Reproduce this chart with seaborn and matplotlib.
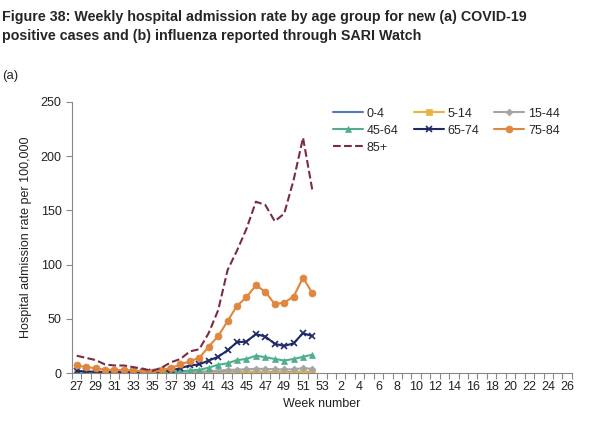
import numpy as np
import pandas as pd
import seaborn as sns
import matplotlib.pyplot as plt
from matplotlib.ticker import FixedLocator, NullFormatter

# week axis runs 27..53 then 1..26
weeks = list(range(27, 54)) + list(range(1, 27))

# data available for weeks 27-52
rate_0_4 = [0.8, 0.6, 0.5, 0.4, 0.4, 0.3, 0.3, 0.3, 0.3, 0.3, 0.4, 0.5, 0.6, 0.7, 0.8, 0.9,
            1.0, 1.0, 1.1, 1.2, 1.1, 1.0, 1.0, 1.0, 1.2, 1.1]
rate_5_14 = [0.2, 0.2, 0.1, 0.1, 0.1, 0.1, 0.1, 0.1, 0.1, 0.1, 0.1, 0.2, 0.2, 0.3, 0.4, 0.5,
             0.6, 0.7, 0.7, 0.8, 0.7, 0.7, 0.6, 0.6, 0.8, 0.7]
rate_15_44 = [0.5, 0.4, 0.3, 0.3, 0.3, 0.2, 0.2, 0.2, 0.2, 0.3, 0.4, 0.6, 0.9, 1.2, 1.8, 2.3,
              2.9, 3.2, 3.5, 4.0, 3.8, 3.5, 3.4, 3.5, 4.5, 4.0]
rate_45_64 = [1.0, 0.8, 0.7, 0.6, 0.6, 0.5, 0.5, 0.5, 0.5, 0.6, 0.9, 1.5, 2.5, 3.0, 5.0, 7.7,
              9.0, 12.0, 13.0, 16.0, 14.7, 13.0, 11.6, 13.0, 15.0, 17.0]
rate_65_74 = [2.0, 1.5, 1.2, 1.0, 1.0, 1.0, 0.9, 0.9, 0.8, 1.5, 2.5, 4.6, 7.0, 8.0, 11.6, 15.0,
              21.0, 28.5, 29.0, 36.0, 33.7, 27.0, 25.0, 27.5, 36.8, 34.0]
rate_75_84 = [7.0, 5.5, 4.6, 3.0, 3.0, 2.5, 2.5, 1.5, 1.0, 2.5, 4.6, 8.0, 11.0, 14.0, 24.5, 34.0,
              48.0, 62.0, 70.0, 81.0, 75.0, 63.5, 65.0, 70.5, 88.0, 73.5]
rate_85 = [16.0, 14.0, 12.0, 8.0, 7.0, 7.0, 5.5, 4.0, 2.0, 5.0, 10.0, 13.0, 20.0, 22.0, 37.0, 58.0,
           95.0, 113.0, 133.0, 158.0, 155.0, 140.0, 147.0, 178.0, 217.0, 168.0]

groups = ["0-4", "5-14", "15-44", "45-64", "65-74", "75-84", "85+"]
series = [rate_0_4, rate_5_14, rate_15_44, rate_45_64, rate_65_74, rate_75_84, rate_85]
colors = ["#4a7ebb", "#e8b440", "#a5a5a5", "#4fae8b", "#1f2a66", "#e0873f", "#7a2c45"]
markers = [None, "s", "D", "^", "x", "o", None]
msizes = [0, 4.5, 3.5, 4.5, 4.5, 5, 0]

sns.set_theme(style="white")
plt.rcParams["font.family"] = ["Liberation Sans", "DejaVu Sans"]

fig = plt.figure(figsize=(6, 4.23), dpi=100)
ax = fig.add_axes([0.12, 0.118, 0.833, 0.641])

for grp, vals, col, mk, ms in zip(groups, series, colors, markers, msizes):
    df = pd.DataFrame({"idx": np.arange(len(vals)), "rate": vals})
    sns.lineplot(data=df, x="idx", y="rate", ax=ax, color=col, marker=mk,
                 markersize=ms, markeredgecolor=col, markeredgewidth=1.2 if mk == "x" else 0.5,
                 linewidth=1.5, linestyle="--" if grp == "85+" else "-", label=grp)

ax.set_xlim(-0.5, len(weeks) - 0.5)
ax.set_ylim(0, 250)
ax.set_yticks([0, 50, 100, 150, 200, 250])
ax.set_xticks(range(0, len(weeks), 2))
ax.set_xticklabels([str(w) for w in weeks[::2]])
ax.xaxis.set_minor_locator(FixedLocator(np.arange(-0.5, len(weeks), 1)))
ax.xaxis.set_minor_formatter(NullFormatter())
ax.tick_params(axis="x", which="major", length=0, labelsize=9, pad=6, colors="#222222")
ax.tick_params(axis="x", which="minor", length=4, width=0.8, color="#888888", bottom=True)
ax.tick_params(axis="y", length=4, width=0.8, color="#888888", labelsize=9, left=True,
               labelcolor="#222222")

for side in ["top", "right"]:
    ax.spines[side].set_visible(False)
for side in ["left", "bottom"]:
    ax.spines[side].set_color("#888888")
    ax.spines[side].set_linewidth(0.8)

ax.set_xlabel("Week number", fontsize=9, color="#222222", labelpad=3)
ax.set_ylabel("Hospital admission rate per 100,000", fontsize=9, color="#222222", labelpad=6)

# row-wise legend order like the original
handles, labels = ax.get_legend_handles_labels()
order = [0, 3, 6, 1, 4, 2, 5]
ax.legend([handles[i] for i in order], [labels[i] for i in order],
          ncol=3, loc="upper left", bbox_to_anchor=(0.5, 1.02), frameon=False, fontsize=9,
          handlelength=2.4, columnspacing=1.2, labelspacing=0.4, handletextpad=0.3)

fig.text(0.003, 0.977, "Figure 38: Weekly hospital admission rate by age group for new (a) COVID-19\n"
         "positive cases and (b) influenza reported through SARI Watch",
         fontsize=10.3, fontweight="bold", va="top", ha="left", linespacing=1.45)
fig.text(0.003, 0.82, "(a)", fontsize=9.5, va="center", ha="left")

plt.savefig("out.png", dpi=100, facecolor="white")
